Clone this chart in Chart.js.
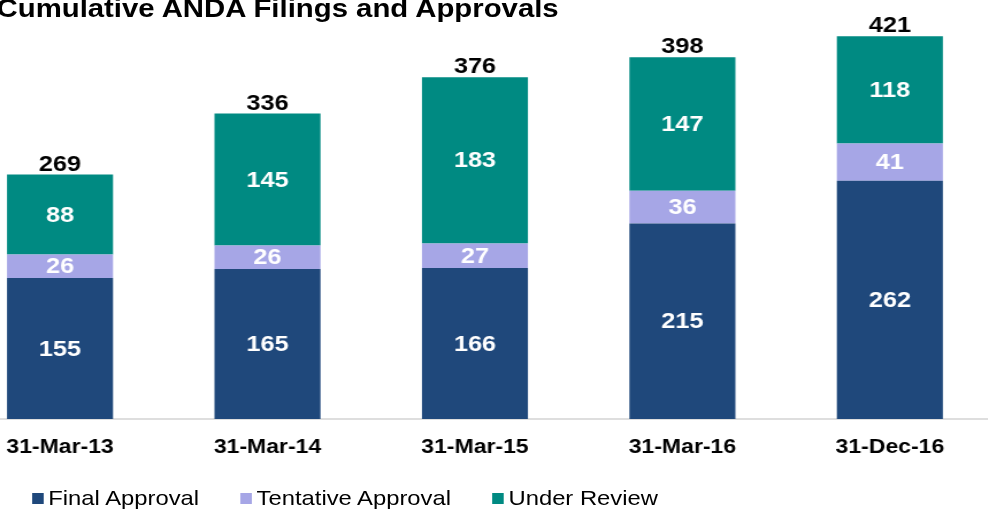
<!DOCTYPE html>
<html>
<head>
<meta charset="utf-8">
<script src="https://cdn.jsdelivr.net/npm/chart.js@4/dist/chart.umd.min.js"></script>
<style>
  html, body { margin: 0; padding: 0; background: #fff; overflow: hidden; }
  body { width: 988px; height: 510px; position: relative; }
  /* the original picture is stretched sideways, so the whole chart is drawn narrow and scaled */
  #wrap { position: absolute; left: 0; top: 0; width: 860px; height: 510px; transform: scaleX(1.15); transform-origin: 0 0; font-family: 'Liberation Sans', Arial, sans-serif; }
  #title { position: absolute; left: -3px; top: -4px; font-size: 25.5px; line-height: 25px; font-weight: bold; color: #000; white-space: nowrap; }
  #myChart { position: absolute; left: -38px; top: 0; }
  #legend { position: absolute; left: 28px; top: 488px; display: flex; gap: 36px; font-size: 20.7px; line-height: 20px; color: #000; white-space: nowrap; }
  #legend .item { display: flex; align-items: center; }
  #legend .box { width: 10px; height: 11px; margin-right: 4px; }
</style>
</head>
<body>
<div id="wrap">
  <div id="title">Cumulative ANDA Filings and Approvals</div>
  <canvas id="myChart" width="902" height="478"></canvas>
  <div id="legend"></div>
</div>
<script>
const labels = ['31-Mar-13', '31-Mar-14', '31-Mar-15', '31-Mar-16', '31-Dec-16'];
const finalApproval = [155, 165, 166, 215, 262];
const tentativeApproval = [26, 26, 27, 36, 41];
const underReview = [88, 145, 183, 147, 118];
const totals = labels.map((l, i) => finalApproval[i] + tentativeApproval[i] + underReview[i]);

Chart.defaults.font.family = "'Liberation Sans', Arial, sans-serif";

// value labels inside the segments and totals on top
const barLabels = {
    id: 'barLabels',
    afterDatasetsDraw(chart) {
        const ctx = chart.ctx;
        ctx.save();
        ctx.textAlign = 'center';
        ctx.font = "bold 22px 'Liberation Sans', Arial, sans-serif";
        ctx.fillStyle = '#fff';
        ctx.textBaseline = 'middle';
        chart.data.datasets.forEach((ds, d) => {
            chart.getDatasetMeta(d).data.forEach((bar, i) => {
                ctx.fillText(ds.data[i], bar.x, (bar.y + bar.base) / 2 + 1);
            });
        });
        const top = chart.getDatasetMeta(chart.data.datasets.length - 1).data;
        ctx.fillStyle = '#000';
        ctx.textBaseline = 'alphabetic';
        top.forEach((bar, i) => {
            ctx.fillText(totals[i], bar.x, bar.y - 4);
        });
        ctx.restore();
    }
};

var ctx = document.getElementById('myChart').getContext('2d');
var chart = new Chart(ctx, {
    type: 'bar',
    data: {
        labels: labels,
        datasets: [{
            label: 'Final Approval',
            backgroundColor: '#1F487B',
            data: finalApproval
        }, {
            label: 'Tentative Approval',
            backgroundColor: '#A6A6E6',
            data: tentativeApproval
        }, {
            label: 'Under Review',
            backgroundColor: '#008A82',
            data: underReview
        }]
    },
    options: {
        responsive: false,
        animation: false,
        layout: { padding: { top: 10, bottom: 2, left: 0, right: 0 } },
        datasets: { bar: { categoryPercentage: 1, barPercentage: 0.511, clip: false } },
        plugins: {
            legend: { display: false },
            tooltip: { enabled: false }
        },
        scales: {
            x: {
                stacked: true,
                grid: { display: false, drawTicks: false },
                border: { display: true, color: '#dedede', width: 2 },
                ticks: { color: '#000', padding: 16.5, font: { size: 20, weight: 'bold' } }
            },
            y: {
                stacked: true,
                display: false,
                min: 0,
                max: 450
            }
        }
    },
    plugins: [barLabels]
});

// html legend built from the datasets
const legend = document.getElementById('legend');
chart.data.datasets.forEach(ds => {
    const item = document.createElement('span');
    item.className = 'item';
    const box = document.createElement('span');
    box.className = 'box';
    box.style.background = ds.backgroundColor;
    item.appendChild(box);
    item.appendChild(document.createTextNode(ds.label));
    legend.appendChild(item);
});
</script>
</body>
</html>
